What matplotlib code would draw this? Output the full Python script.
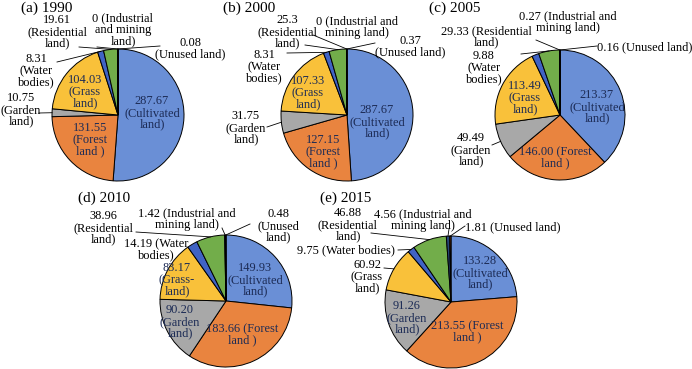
import matplotlib.pyplot as plt
import numpy as np

plt.rcParams['font.family'] = ['Liberation Serif', 'DejaVu Serif']

W, H = 692, 369

categories = ['Cultivated land', 'Forest land', 'Garden land', 'Grass land',
              'Water bodies', 'Residential land', 'Industrial and mining land',
              'Unused land']
colors = ['#6a8fd6', '#e9843f', '#a8a8a8', '#f9c13a', '#4063c4', '#72ad4a',
          '#264478', '#9e480e']

v1990 = [287.67, 131.55, 10.75, 104.03, 8.31, 19.61, 0, 0.08]
v2000 = [287.67, 127.15, 31.75, 107.33, 8.31, 25.3, 0, 0.37]
v2005 = [213.37, 146.00, 49.49, 113.49, 9.88, 29.33, 0.27, 0.16]
v2010 = [149.93, 183.66, 90.20, 83.17, 14.19, 38.96, 1.42, 0.48]
v2015 = [133.28, 213.55, 91.26, 60.92, 9.75, 46.88, 4.56, 1.81]

# label layout per chart: slice index -> (template, text x, text y, leader anchor or None, inside?)
charts = [
    dict(title='(a) 1990', tpos=(47, 8), values=v1990, c=(118, 115), r=66, labels={
        0: ('{:.2f}\n(Cultivated\nland)', 152, 113, None, True),
        1: ('{:.2f}\n(Forest\nland )', 90, 140, None, True),
        2: ('{:.2f}\n(Garden\nland)', 21, 110, (39, 113), False),
        3: ('{:.2f}\n(Grass\nland)', 85, 92, None, True),
        4: ('{:.2f}\n(Water\nbodies)', 36, 71, (57, 62), False),
        5: ('{:.2f}\n(Residential\nland)', 57, 32, (79, 47), False),
        6: ('{:.0f} (Industrial\nand mining\nland)', 123, 30, (97, 47), False),
        7: ('{:.2f}\n(Unused land)', 190, 49, (160, 46), False),
    }),
    dict(title='(b) 2000', tpos=(249, 8), values=v2000, c=(347, 115), r=66, labels={
        0: ('{:.2f}\n(Cultivated\nland)', 377, 122, None, True),
        1: ('{:.2f}\n(Forest\nland )', 323, 152, None, True),
        2: ('{:.2f}\n(Garden\nland)', 246, 128, (267, 127), False),
        3: ('{:.2f}\n(Grass\nland)', 308, 93, None, True),
        4: ('{:.2f}\n(Water\nbodies)', 264, 67, (287, 53), False),
        5: ('{:.1f}\n(Residential\nland)', 287, 32, (305, 45), False),
        6: ('{:.0f} (Industrial and\nmining land)', 357, 27, (313, 35), False),
        7: ('{:.2f}\n(Unused land)', 410, 47, (375, 43), False),
    }),
    dict(title='(c) 2005', tpos=(455, 8), values=v2005, c=(560, 115), r=65, labels={
        0: ('{:.2f}\n(Cultivated\nland)', 597, 107, None, True),
        1: ('{:.2f} (Forest\nland )', 555, 158, None, True),
        2: ('{:.2f}\n(Garden\nland)', 471, 150, (492, 145), False),
        3: ('{:.2f}\n(Grass\nland)', 525, 98, None, True),
        4: ('{:.2f}\n(Water\nbodies)', 484, 68, None, False),
        5: ('{:.2f} (Residential\nland)', 486, 37, (521, 54), False),
        6: ('{:.2f} (Industrial and\nmining land)', 568, 22, (536, 40), False),
        7: ('{:.2f} (Unused land)', 645, 47, (597, 46), False),
    }),
    dict(title='(d) 2010', tpos=(104, 198), values=v2010, c=(226, 301), r=66, labels={
        0: ('{:.2f}\n(Cultivated\nland)', 255, 280, None, True),
        1: ('{:.2f} (Forest\nland )', 242, 335, None, True),
        2: ('{:.2f}\n(Garden\nland)', 180, 322, None, True),
        3: ('{:.2f}\n(Grass-\nland)', 177, 280, None, True),
        4: ('{:.2f} (Water\nbodies)', 156, 250, None, False),
        5: ('{:.2f}\n(Residential\nland)', 103, 228, (136, 232), False),
        6: ('{:.2f} (Industrial and\nmining land)', 187, 219, (222, 228), False),
        7: ('{:.2f}\n(Unused\nland)', 278, 226, (250, 224), False),
    }),
    dict(title='(e) 2015', tpos=(346, 198), values=v2015, c=(451, 302), r=66, labels={
        0: ('{:.2f}\n(Cultivated\nland)', 480, 273, None, True),
        1: ('{:.2f} (Forest\nland )', 467, 332, None, True),
        2: ('{:.2f}\n(Garden\nland)', 407, 318, None, True),
        3: ('{:.2f}\n(Grass\nland)', 367, 277, (384, 268), False),
        4: ('{:.2f} (Water bodies)', 346, 250, (398, 250), False),
        5: ('{:.2f}\n(Residential\nland)', 348, 225, (371, 233), False),
        6: ('{:.2f} (Industrial and\nmining land)', 423, 220, (449, 229), False),
        7: ('{:.2f} (Unused land)', 513, 227, (465, 226), False),
    }),
]

fig = plt.figure(figsize=(W / 100, H / 100), dpi=100)
ax = fig.add_axes([0, 0, 1, 1])

for ch in charts:
    vals = np.array(ch['values'], dtype=float)
    cx, cy = ch['c']
    r = ch['r']
    ax.pie(vals, colors=colors, startangle=90, counterclock=False,
           center=(cx, H - cy), radius=r,
           wedgeprops=dict(edgecolor='black', linewidth=0.7))
    ax.text(ch['tpos'][0], H - ch['tpos'][1], ch['title'], fontsize=11,
            ha='center', va='center')
    frac = np.cumsum(vals) / vals.sum()
    mids = frac - vals / vals.sum() / 2
    for i, (tmpl, tx, ty, anchor, inside) in ch['labels'].items():
        ax.text(tx, H - ty, tmpl.format(vals[i]), fontsize=8.9, ha='center',
                va='center', linespacing=0.95,
                color='#1c2b55' if inside else 'black')
        if anchor is not None:
            th = 2 * np.pi * mids[i]
            ex = cx + r * np.sin(th)
            ey = cy - r * np.cos(th)
            ax.plot([anchor[0], ex], [H - anchor[1], H - ey], color='black',
                    lw=0.6)

ax.set_xlim(0, W)
ax.set_ylim(0, H)
ax.set_aspect('equal')
ax.axis('off')
fig.savefig('out.png', dpi=100)
